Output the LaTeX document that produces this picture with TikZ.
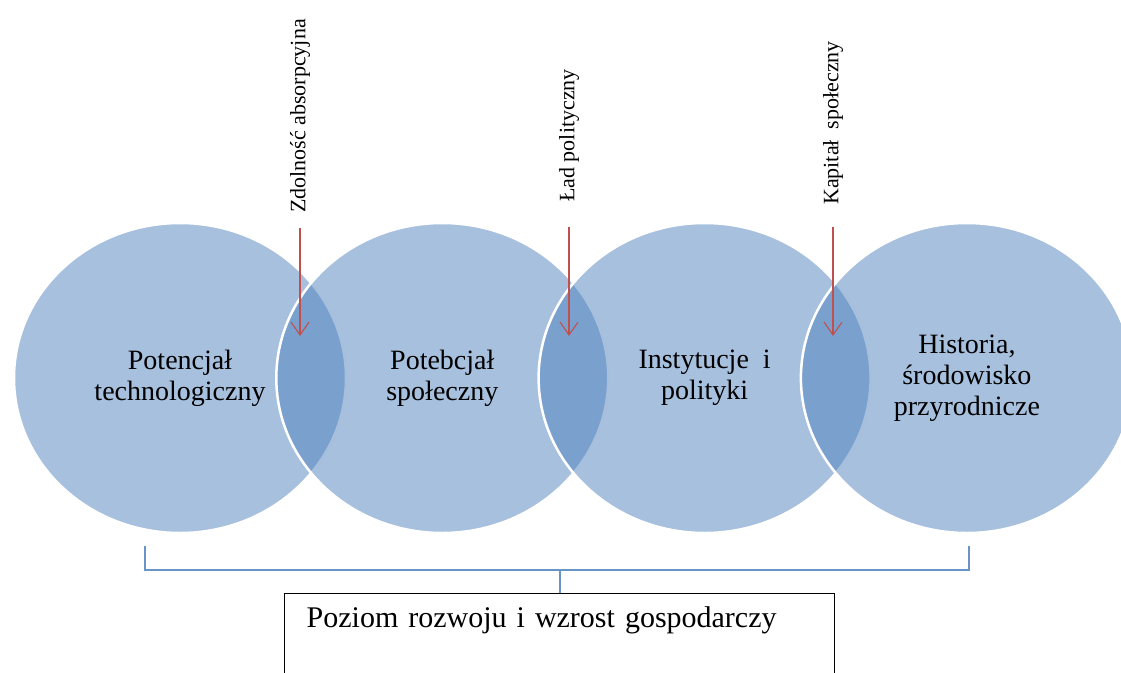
\documentclass[tikz,border=0pt]{standalone}
\usepackage{fontspec}
\setmainfont{Liberation Serif}
\usetikzlibrary{shapes.geometric, positioning, arrows.meta}
\definecolor{bubbleblue}{HTML}{4F81BD}
\definecolor{arrowred}{HTML}{C0504D}
\tikzset{
bubble/.style={ellipse, minimum width=332pt, minimum height=310pt, fill=bubbleblue, fill opacity=0.5, text opacity=1, draw=white, line width=2.5pt, align=center, font=\fontsize{28}{31}\selectfont}, % the overlapping circles
factor/.style={rotate=90, anchor=west, inner sep=0pt, font=\fontsize{22}{24}\selectfont}, % vertical labels above the arrows
inflow/.style={-{Straight Barb[length=13pt,width=18pt]}, arrowred, line width=1.1pt}, % red arrows into the overlaps
bracket/.style={draw=bubbleblue!85, line width=1.8pt},
goalbox/.style={draw=black, line width=1.4pt, anchor=north west, text width=506pt, inner xsep=22pt, inner ysep=0pt, text height=34pt, text depth=80pt, font=\fontsize{30}{32}\selectfont},
node distance=262.3pt, % spacing of the circle centres
}

\begin{document}
\begin{tikzpicture}[x=1pt, y=-1pt]
    \useasboundingbox (0,0) rectangle (1121,672);
    \node[bubble] (tech) at (180,378) {Potencjał\\technologiczny};
    \node[bubble, right of=tech] (spol) {Potebcjał\\społeczny};
    \node[bubble, right of=spol] (inst) {Instytucje\ \ i\\polityki};
    \node[bubble, right of=inst] (hist) {Historia,\\środowisko\\przyrodnicze};
    % labels and arrows
    \node[factor] (zdol) at (300,213) {Zdolność absorpcyjna};
    \node[factor] (lad) at (569,202) {Ład polityczny};
    \node[factor] (kap) at (833,205) {Kapitał\ \ społeczny};
    \coordinate (t1) at (300,336);
    \coordinate (t2) at (569,336);
    \coordinate (t3) at (833,336);
    \draw[inflow] ([yshift=-15pt]zdol.west) -- (t1);
    \draw[inflow] ([yshift=-25pt]lad.west) -- (t2);
    \draw[inflow] ([yshift=-22pt]kap.west) -- (t3);
    % bracket and result
    \coordinate (bl) at (145,546);
    \coordinate (br) at (969,546);
    \node[goalbox] (goal) at (284,593) {Poziom rozwoju i wzrost gospodarczy};
    \draw[bracket] (bl) -- ++(0,24) -| (br);
    \draw[bracket] (goal.north) -- ++(0,-23);
\end{tikzpicture}
\end{document}
